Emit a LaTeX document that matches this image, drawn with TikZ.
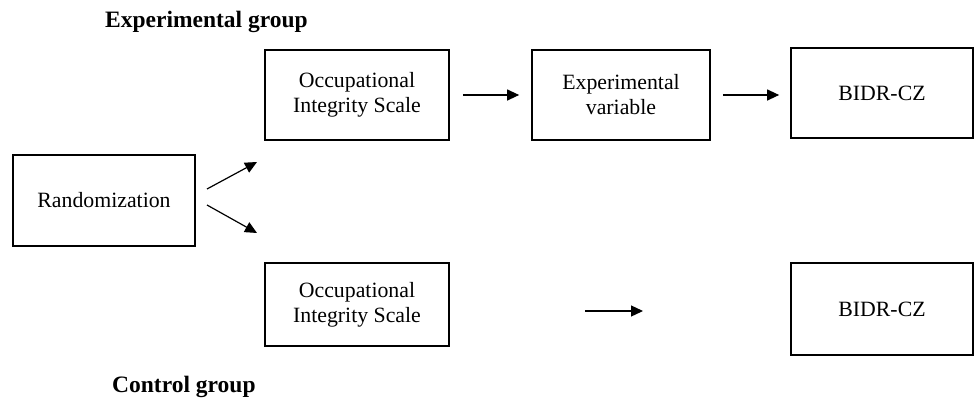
\documentclass[tikz,border=0pt]{standalone}
\usepackage{fontspec}
\setmainfont{Liberation Serif}
\usetikzlibrary{arrows.meta}
\begin{document}
\begin{tikzpicture}[x=1pt,y=-1pt,
  box/.style={draw=black, line width=1.7pt, rectangle, inner sep=0pt, align=center,
    font=\fontsize{21.8}{25}\selectfont},
  conn/.style={line width=1.2pt, -{Triangle[length=12pt,width=11pt]}},
  heading/.style={anchor=base west, inner sep=0pt, font=\fontsize{23.5}{28}\selectfont\bfseries}]
\useasboundingbox (0,0) rectangle (974,399);
\node[heading] (hexp) at (105,27) {Experimental group};
\node[heading] (hctl) at (112,392) {Control group};
\node[box, minimum width=182pt, minimum height=91pt] (rand) at (104,200.5) {Randomization};
\node[box, minimum width=184pt, minimum height=90pt] (ois1) at (357,95) {Occupational\\Integrity Scale};
\node[box, minimum width=178pt, minimum height=90pt] (ev) at (621,95) {Experimental\\variable};
\node[box, minimum width=182pt, minimum height=90pt] (bidr1) at (882,93) {BIDR-CZ};
\node[box, minimum width=184pt, minimum height=83pt] (ois2) at (357,304.5) {Occupational\\Integrity Scale};
\node[box, minimum width=182pt, minimum height=92pt] (bidr2) at (882,309) {BIDR-CZ};
\coordinate (ra1) at (207,189);
\coordinate (rb1) at (257,162);
\coordinate (ra2) at (207,205);
\coordinate (rb2) at (257,233);
\draw[conn] (ra1) -- (rb1);
\draw[conn] (ra2) -- (rb2);
\draw[conn, shorten <=13pt, shorten >=12pt] (ois1.east) -- (ev.west);
\draw[conn, shorten <=12pt, shorten >=11pt] (ev.east) -- (ev.east -| bidr1.west);
\coordinate (ba) at (585,311);
\coordinate (bb) at (643,311);
\draw[conn] (ba) -- (bb);
\end{tikzpicture}
\end{document}
